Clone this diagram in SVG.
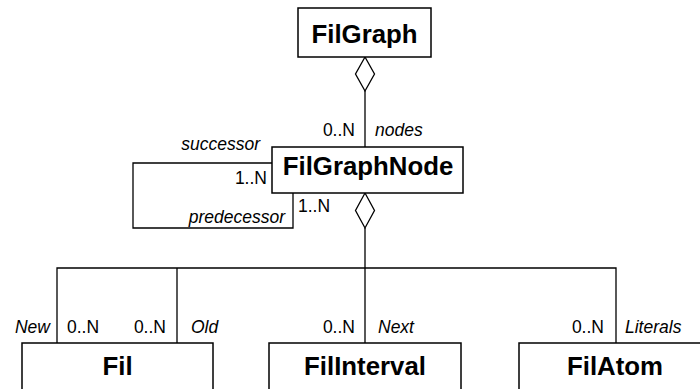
<svg xmlns="http://www.w3.org/2000/svg" width="700" height="389" viewBox="0 0 700 389">
<style>
.box{fill:#fff;stroke:#000;stroke-width:1.5}
.t{font-family:"Liberation Sans",Arial,sans-serif;font-weight:bold;font-size:25.8px;text-anchor:middle}
.l{font-family:"Liberation Sans",Arial,sans-serif;font-size:17.5px}
.i{font-style:italic}
.e{text-anchor:end}
.c{fill:none;stroke:#000;stroke-width:1.3}
.d{fill:#fff;stroke:#000;stroke-width:1.3}
</style>
<rect width="700" height="389" fill="#fff"/>
<g id="connectors">
<path class="c" d="M365,90 V147"/>
<polygon class="d" points="365,57 374.5,74 365,91 355.5,74"/>
<path class="c" d="M272,163 H133 V228 H293 V193"/>
<path class="c" d="M365,228 V268 M57,343 V268 H616 V343 M177,268 V343 M365,268 V343"/>
<polygon class="d" points="365,193 374.5,210.5 365,228 355.5,210.5"/>
<text class="l e" x="355" y="136">0..N</text>
<text class="l i" x="375" y="136">nodes</text>
<text class="l i e" x="260" y="150">successor</text>
<text class="l e" x="267" y="184">1..N</text>
<text class="l" x="298" y="212">1..N</text>
<text class="l i e" x="285" y="223">predecessor</text>
<text class="l i e" x="50" y="333">New</text>
<text class="l" x="67" y="333">0..N</text>
<text class="l e" x="166" y="333">0..N</text>
<text class="l i" x="191" y="333">Old</text>
<text class="l e" x="355" y="333">0..N</text>
<text class="l i" x="378" y="333">Next</text>
<text class="l e" x="604" y="333">0..N</text>
<text class="l i" x="625" y="333">Literals</text>
</g>
<g id="FilGraph"><rect class="box" x="298" y="8" width="133" height="49"/><text class="t" x="364.5" y="43">FilGraph</text></g>
<g id="FilGraphNode"><rect class="box" x="272" y="147" width="191" height="46"/><text class="t" x="368" y="175">FilGraphNode</text></g>
<g id="Fil"><rect class="box" x="22" y="343" width="191" height="60"/><text class="t" x="117.5" y="375">Fil</text></g>
<g id="FilInterval"><rect class="box" x="269" y="343" width="192" height="60"/><text class="t" x="365" y="375">FilInterval</text></g>
<g id="FilAtom"><rect class="box" x="519" y="343" width="192" height="60"/><text class="t" x="615" y="375">FilAtom</text></g>
</svg>
